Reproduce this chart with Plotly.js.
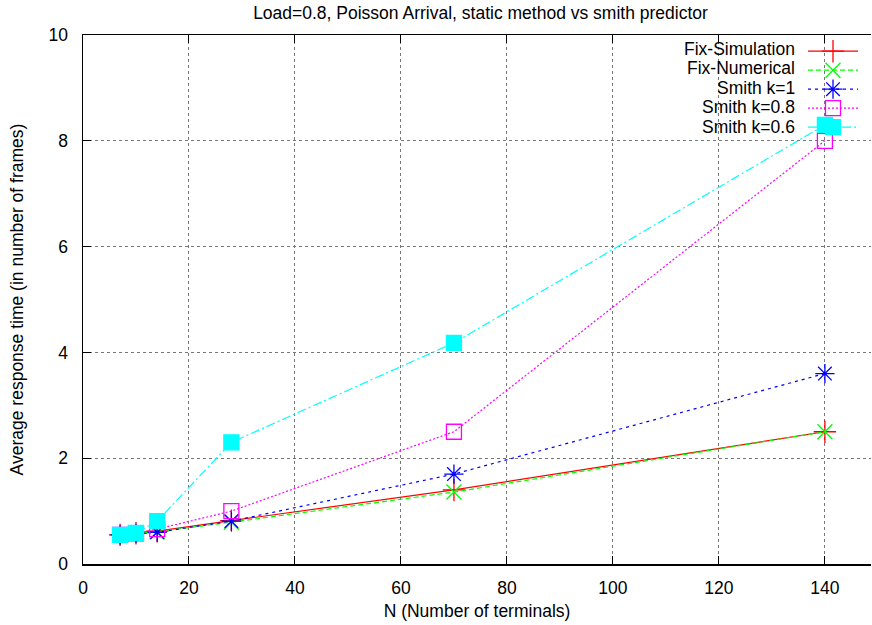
<!DOCTYPE html>
<html>
<head>
<meta charset="utf-8">
<script src="https://cdn.plot.ly/plotly-3.0.1.min.js"></script>
<style>html,body{margin:0;padding:0;background:#fff;}#chart{width:872px;height:625px;}</style>
</head>
<body>
<div id="chart"></div>
<script>
// Data
const terminals = [7, 10, 14, 28, 70, 140];
const fixSimulation = [0.55, 0.58, 0.62, 0.82, 1.40, 2.50];
const fixNumerical  = [0.55, 0.58, 0.61, 0.79, 1.36, 2.50];
const smithK1       = [0.55, 0.58, 0.60, 0.81, 1.70, 3.60];
const smithK08      = [0.55, 0.58, 0.66, 1.00, 2.50, 8.00];
const smithK06      = [0.55, 0.59, 0.81, 2.30, 4.18, 8.30];
const seriesNames = ["Fix-Simulation", "Fix-Numerical", "Smith k=1", "Smith k=0.8", "Smith k=0.6"];
const xTicks = [0, 20, 40, 60, 80, 100, 120, 140];
const yTicks = [0, 2, 4, 6, 8, 10];

const FONT = "Liberation Sans, Arial, Helvetica, sans-serif";
const FS = 17.5;
const styles = [
  {color: "#ff0000", dash: "solid", symbol: "cross-thin-open", size: 16},
  {color: "#00ff00", dash: "5px,3px", symbol: "x-thin-open", size: 15},
  {color: "#0000ff", dash: "3px,4px", symbol: "asterisk-open", size: 16},
  {color: "#ff00ff", dash: "2px,2px", symbol: "square-open", size: 15},
  {color: "#00ffff", dash: "9px,3px,2px,3px", symbol: "square", size: 15}
];
const ys = [fixSimulation, fixNumerical, smithK1, smithK08, smithK06];

const traces = ys.map((y, i) => ({
  x: terminals, y: y, type: "scatter", mode: "lines+markers",
  name: "",
  hovertext: seriesNames[i],
  line: {color: styles[i].color, width: 1.2, dash: styles[i].dash},
  marker: {color: styles[i].color, symbol: styles[i].symbol, size: styles[i].size,
           line: {color: styles[i].color, width: 1.3}}
}));

// plot area pixels: left 83, right 871, top 35, bottom 564
const L = 83, R = 871, T = 35, B = 564;
const rowY = [48.7, 68.2, 87.7, 107.2, 126.7];
const annotations = seriesNames.map((n, i) => ({
  text: n, xref: "paper", yref: "paper",
  x: (797 - L) / (R - L), y: (B - rowY[i]) / (B - T),
  xanchor: "right", yanchor: "middle", showarrow: false,
  font: {family: FONT, size: FS, color: "#000"}
}));

const layout = {
  width: 872, height: 625,
  margin: {l: L, r: 872 - R, t: T, b: 625 - B, pad: 0},
  paper_bgcolor: "#fff", plot_bgcolor: "#fff",
  showlegend: true,
  title: {text: "Load=0.8, Poisson Arrival, static method vs smith predictor",
          font: {family: FONT, size: FS, color: "#000"},
          x: (480.5 - L) / (R - L), xref: "paper", xanchor: "center",
          y: 1 - 13 / 625, yanchor: "middle"},
  xaxis: {range: [0, 148.7], tickvals: xTicks, ticktext: xTicks.map(String),
          ticks: "inside", ticklen: 8, tickcolor: "#000", tickwidth: 1,
          showline: true, linecolor: "#000", linewidth: 1.5, mirror: "ticks",
          showgrid: true, gridcolor: "#777", griddash: "dot", gridwidth: 1,
          zeroline: false, ticklabelstandoff: 7,
          tickfont: {family: FONT, size: FS, color: "#000"},
          title: {text: "N (Number of terminals)", font: {family: FONT, size: FS, color: "#000"}, standoff: 8}},
  yaxis: {range: [0, 10], tickvals: yTicks, ticktext: yTicks.map(String),
          ticks: "inside", ticklen: 8, tickcolor: "#000", tickwidth: 1,
          showline: true, linecolor: "#000", linewidth: 1.5, mirror: false,
          showgrid: true, gridcolor: "#777", griddash: "dot", gridwidth: 1,
          zeroline: false, ticklabelstandoff: 10,
          tickfont: {family: FONT, size: FS, color: "#000"},
          title: {text: "Average response time (in number of frames)", font: {family: FONT, size: FS, color: "#000"}, standoff: 20}},
  legend: {x: (868 - L) / (R - L), y: (B - 36.7) / (B - T), xanchor: "right", yanchor: "top",
           bgcolor: "rgba(0,0,0,0)", borderwidth: 0, itemwidth: 50,
           tracegroupgap: 0, font: {family: FONT, size: 12}, itemclick: false},
  annotations: annotations
};

Plotly.newPlot("chart", traces, layout, {displayModeBar: false, staticPlot: true});
</script>
</body>
</html>
